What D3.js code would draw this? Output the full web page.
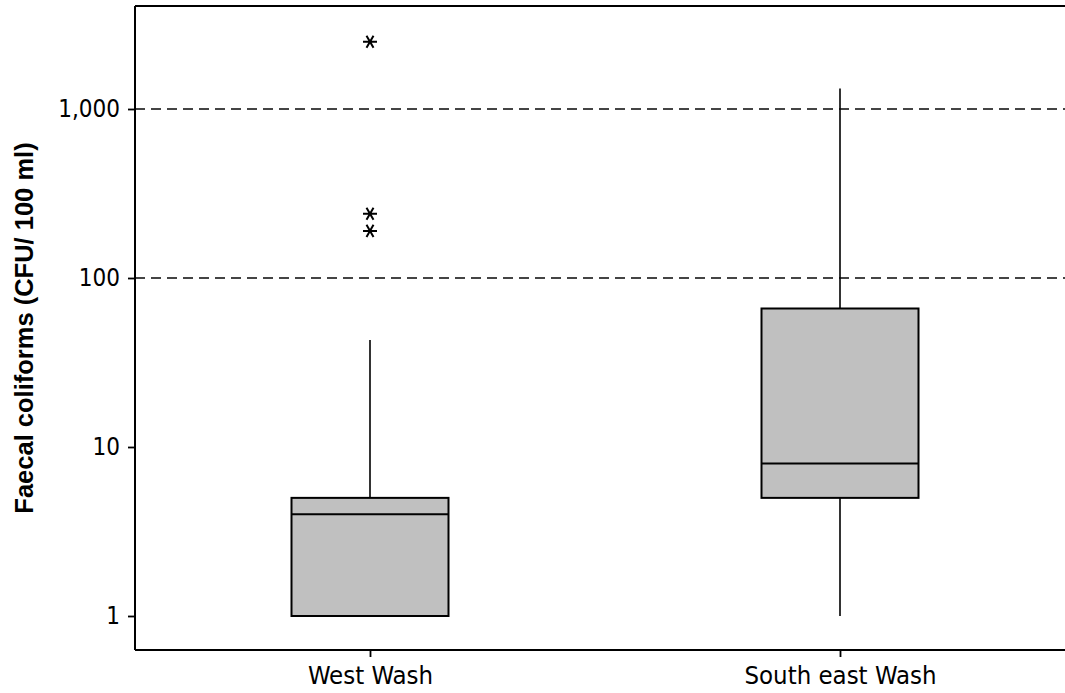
<!DOCTYPE html>
<html>
<head>
<meta charset="utf-8">
<script src="https://cdn.jsdelivr.net/npm/d3@7"></script>
<style>
  html, body { margin: 0; padding: 0; background: #fff; }
  svg { display: block; }
</style>
</head>
<body>
<svg id="chart" width="1065" height="693"></svg>
<script>
// ---- data ----
const categories = ["West Wash", "South east Wash"];
const whiskerLow  = [1, 1];
const q1          = [1, 5];
const median      = [4, 8];
const q3          = [5, 66];
const whiskerHigh = [43, 1320];
const outliers    = [[2500, 240, 190], []];
const yTicks      = [1, 10, 100, 1000];
const refLines    = [100, 1000];
const yTitle = "Faecal coliforms (CFU/ 100 ml)";

(function () {
// ---- layout ----
const W = 1065, H = 693;
const mLeft = 135, mTop = 6, mBottom = 650, mRight = 1075;

const svg = d3.select("#chart");

const x = d3.scalePoint().domain(categories).range([mLeft, mRight]).padding(0.5);
const y = d3.scaleLog().domain([Math.pow(10, -34/169), Math.pow(10, 3 + 103/169)]).range([mBottom, mTop]);

const fontAxis = "'DejaVu Sans Condensed', 'DejaVu Sans', Tahoma, sans-serif";

// reference dashed lines
svg.append("g").selectAll("line").data(refLines).join("line")
  .attr("x1", mLeft).attr("x2", W)
  .attr("y1", d => y(d)).attr("y2", d => y(d))
  .attr("stroke", "#444").attr("stroke-width", 1.8)
  .attr("stroke-dasharray", "10,6");

const boxW = 157;
const g = svg.append("g");
categories.forEach((c, i) => {
  const cx = x(c);
  if (whiskerHigh[i] > q3[i]) {
    g.append("line").attr("x1", cx).attr("x2", cx)
      .attr("y1", y(q3[i])).attr("y2", y(whiskerHigh[i]))
      .attr("stroke", "#000").attr("stroke-width", 1.6);
  }
  if (whiskerLow[i] < q1[i]) {
    g.append("line").attr("x1", cx).attr("x2", cx)
      .attr("y1", y(q1[i])).attr("y2", y(whiskerLow[i]))
      .attr("stroke", "#000").attr("stroke-width", 1.6);
  }
  g.append("rect")
    .attr("x", cx - boxW/2).attr("width", boxW)
    .attr("y", y(q3[i])).attr("height", y(q1[i]) - y(q3[i]))
    .attr("fill", "#c0c0c0").attr("stroke", "#000").attr("stroke-width", 2);
  g.append("line").attr("x1", cx - boxW/2).attr("x2", cx + boxW/2)
    .attr("y1", y(median[i])).attr("y2", y(median[i]))
    .attr("stroke", "#000").attr("stroke-width", 2);
  const s = 7;
  outliers[i].forEach(v => {
    const yy = y(v);
    const a = s * Math.cos(Math.PI/3), b = s * Math.sin(Math.PI/3);
    const p = `M${cx - s},${yy}L${cx + s},${yy}` +
              `M${cx - a},${yy - b}L${cx + a},${yy + b}` +
              `M${cx - a},${yy + b}L${cx + a},${yy - b}`;
    g.append("path").attr("d", p).attr("stroke", "#000").attr("stroke-width", 2).attr("fill", "none");
  });
});

// frame: top border
svg.append("line").attr("x1", mLeft).attr("x2", W).attr("y1", mTop).attr("y2", mTop)
  .attr("stroke", "#000").attr("stroke-width", 2.2);

// y axis
const yAxis = d3.axisLeft(y).tickValues(yTicks).tickSize(7).tickPadding(8)
  .tickFormat(d3.format(","));
const ya = svg.append("g").attr("transform", `translate(${mLeft},0)`).call(yAxis);
ya.select(".domain").attr("d", `M0,${mTop}V${mBottom}`).attr("stroke-width", 2);
ya.selectAll(".tick line").attr("stroke-width", 1.8);
ya.selectAll("text").attr("font-family", fontAxis).attr("font-size", 24).attr("fill", "#000");

// x axis
const xAxis = d3.axisBottom(x).tickSize(7).tickPadding(9);
const xa = svg.append("g").attr("transform", `translate(0,${mBottom})`).call(xAxis);
xa.select(".domain").attr("d", `M${mLeft},0H${W}`).attr("stroke-width", 1.8);
xa.selectAll(".tick line").attr("stroke-width", 1.8);
xa.selectAll("text").attr("font-family", fontAxis).attr("font-size", 25.5).attr("fill", "#000");

// y title
svg.append("text")
  .attr("transform", `translate(33,${(mTop + mBottom)/2}) rotate(-90)`)
  .attr("text-anchor", "middle")
  .attr("font-family", "'Liberation Sans', Arial, sans-serif")
  .attr("font-weight", "bold").attr("font-size", 25.5)
  .text(yTitle);
})();
</script>
</body>
</html>
